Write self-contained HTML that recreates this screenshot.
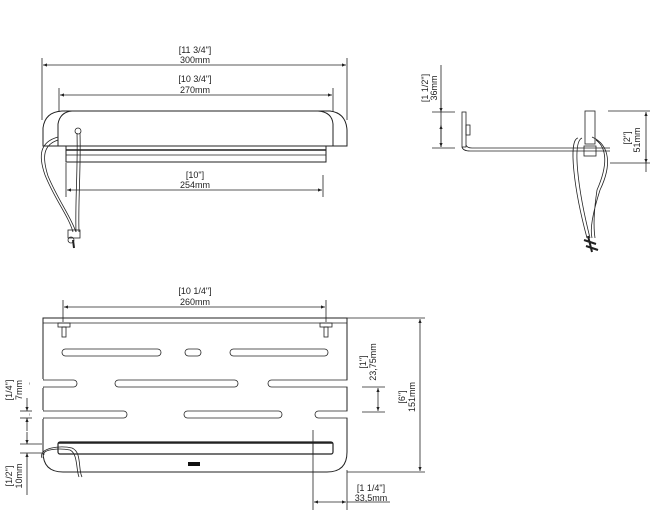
<!DOCTYPE html>
<html><head><style>
html,body{margin:0;padding:0;background:#fff;}
svg{display:block;font-family:"Liberation Sans",sans-serif;}
text{font-size:9px;fill:#222;}
</style></head><body>
<svg width="655" height="528" viewBox="0 0 655 528" xmlns="http://www.w3.org/2000/svg">
<defs>
<marker id="a" viewBox="0 0 10 10" refX="10" refY="5" markerWidth="7" markerHeight="5" orient="auto-start-reverse"><path d="M0,1 L10,5 L0,9 z" fill="#222"/></marker>
</defs>
<g stroke="#222" fill="none" stroke-width="0.8">
<!-- TOP VIEW dims -->
<line x1="42" y1="58" x2="42" y2="120"/><line x1="347" y1="58" x2="347" y2="120"/>
<line x1="43" y1="65" x2="346" y2="65" marker-start="url(#a)" marker-end="url(#a)"/>
<line x1="59" y1="88" x2="59" y2="112"/><line x1="333" y1="88" x2="333" y2="112"/>
<line x1="60" y1="95" x2="332" y2="95" marker-start="url(#a)" marker-end="url(#a)"/>
<line x1="66" y1="163" x2="66" y2="197"/><line x1="323" y1="175" x2="323" y2="197"/>
<line x1="67" y1="190" x2="322" y2="190" marker-start="url(#a)" marker-end="url(#a)"/>
<!-- top body -->
<path d="M43,146 L43,128 Q45,112 62,111 L330,111 Q346,113 347,130 L347,146 Z" stroke-width="1"/>
<path d="M58,146 L58,124 Q60,112 72,111 L318,111 Q332,112 333,124 L333,146" stroke-width="1"/>
<line x1="43" y1="146" x2="347" y2="146"/>
<rect x="66" y="146" width="260" height="16" stroke-width="1"/>
<line x1="66" y1="150" x2="326" y2="150" stroke-width="1.5"/>
<line x1="66" y1="155" x2="326" y2="155"/>
<!-- cord top -->
<circle cx="78" cy="131" r="3"/>
<path d="M77,133 C78,170 75,200 76,232"/><path d="M80,133 C81,170 78,200 79,232"/>
<path d="M58,137 C40,142 38,155 45,175 C55,200 68,215 73,232"/>
<path d="M58,140 C43,145 42,157 48,176 C58,200 70,215 76,232"/>
<rect x="68" y="230" width="12" height="8"/><circle cx="71" cy="240" r="3"/><line x1="73" y1="240" x2="74" y2="248" stroke-width="2"/>
<!-- SIDE VIEW -->
<rect x="462" y="112" width="4" height="35"/>
<rect x="466" y="125" width="4" height="10"/>
<path d="M466,145 Q467,148 472,148 L610,148 M462,147 Q463,151 470,151 L610,151"/>
<rect x="585" y="111" width="10" height="33"/>
<rect x="584" y="146" width="12" height="10"/>
<path d="M578,138 C568,140 574,190 587,238 M582,138 C572,142 578,190 590,238"/>
<path d="M592,137 C610,145 612,165 600,190 C592,215 590,230 592,238 M596,140 C607,148 608,165 597,190 C594,210 593,225 595,238"/>
<path d="M584,240 L596,244 M586,246 L598,250 M588,236 L592,252" stroke-width="2"/>
<line x1="441" y1="65" x2="441" y2="147" /><line x1="441" y1="100" x2="441" y2="112" marker-end="url(#a)"/>
<line x1="441" y1="125" x2="441" y2="147" marker-start="url(#a)" marker-end="url(#a)"/>
<line x1="432" y1="112" x2="455" y2="112"/><line x1="432" y1="148" x2="455" y2="148"/>
<line x1="608" y1="111" x2="650" y2="111"/><line x1="610" y1="163" x2="650" y2="163"/>
<line x1="646" y1="112" x2="646" y2="172" marker-start="url(#a)"/>
<line x1="646" y1="150" x2="646" y2="163" marker-end="url(#a)"/>
<!-- BOTTOM VIEW -->
<path d="M43,318 L347,318 L347,452 Q347,472 327,472 L63,472 Q43,472 43,452 Z" stroke-width="1"/>
<line x1="43" y1="323" x2="347" y2="323"/>
<rect x="58" y="323" width="12" height="4"/><rect x="320" y="323" width="12" height="4"/>
<rect x="62" y="327" width="4" height="10"/><rect x="324" y="327" width="4" height="10"/>
<rect x="62" y="349" width="99" height="7" rx="3.5"/>
<rect x="185" y="349" width="16" height="7" rx="3.5"/>
<rect x="230" y="349" width="98" height="7" rx="3.5"/>
<rect x="115" y="380" width="123" height="7" rx="3.5"/>
<rect x="184" y="411" width="98" height="7" rx="3.5"/>
</g>
<!-- notches -->
<g fill="#fff" stroke="#222" stroke-width="0.8">
<rect x="30" y="380" width="47" height="7" rx="3.5"/>
<rect x="268" y="380" width="90" height="7" rx="3.5"/>
<rect x="30" y="411" width="97" height="7" rx="3.5"/>
<rect x="315" y="411" width="45" height="7" rx="3.5"/>
<rect x="30" y="379" width="13" height="9" stroke="none"/>
<rect x="347.5" y="379" width="12" height="9" stroke="none"/>
<rect x="30" y="410" width="13" height="9" stroke="none"/>
<rect x="347.5" y="410" width="14" height="9" stroke="none"/>
</g>
<g stroke="#222" fill="none" stroke-width="0.8">
<rect x="58" y="442" width="275" height="12" rx="2" stroke-width="1.2"/>
<line x1="58" y1="443" x2="333" y2="443" stroke-width="1.5"/>
<line x1="313" y1="442" x2="313" y2="454"/>
<path d="M42,458 C38,448 60,445 72,448 C82,452 78,470 82,477 M44,455 C42,449 60,448 70,450 C78,454 76,470 79,477"/>
<!-- bottom dims -->
<line x1="63" y1="300" x2="63" y2="322"/><line x1="326" y1="300" x2="326" y2="322"/>
<line x1="64" y1="307" x2="325" y2="307" marker-start="url(#a)" marker-end="url(#a)"/>
<line x1="347" y1="318" x2="425" y2="318"/><line x1="347" y1="472" x2="425" y2="472"/>
<line x1="420" y1="319" x2="420" y2="471" marker-start="url(#a)" marker-end="url(#a)"/>
<line x1="362" y1="387" x2="385" y2="387"/><line x1="362" y1="412" x2="385" y2="412"/>
<line x1="378" y1="388" x2="378" y2="411" marker-start="url(#a)" marker-end="url(#a)"/>
<line x1="20" y1="411" x2="32" y2="411"/><line x1="20" y1="418" x2="32" y2="418"/>
<line x1="27" y1="398" x2="27" y2="411" marker-end="url(#a)"/><line x1="27" y1="431" x2="27" y2="418" marker-end="url(#a)"/>
<line x1="20" y1="444" x2="42" y2="444"/><line x1="20" y1="453" x2="42" y2="453"/>
<line x1="27" y1="432" x2="27" y2="444" marker-end="url(#a)"/><line x1="27" y1="495" x2="27" y2="453" marker-end="url(#a)"/>
<line x1="313" y1="430" x2="313" y2="510"/><line x1="347" y1="470" x2="347" y2="510"/>
<line x1="314" y1="502" x2="346" y2="502" marker-start="url(#a)" marker-end="url(#a)"/>
<line x1="347" y1="502" x2="390" y2="502"/>
</g>
<rect x="188" y="462" width="12" height="4" fill="#111"/>
<!-- labels -->
<g text-anchor="middle">
<text x="195" y="53">[11 3/4"]</text><text x="195" y="63">300mm</text>
<text x="195" y="82">[10 3/4"]</text><text x="195" y="93">270mm</text>
<text x="195" y="178">[10"]</text><text x="195" y="188">254mm</text>
<text x="195" y="294">[10 1/4"]</text><text x="195" y="305">260mm</text>
<text x="371" y="491">[1 1/4"]</text><text x="371" y="501">33,5mm</text>
<text transform="translate(428,88) rotate(-90)">[1 1/2"]</text><text transform="translate(437,88) rotate(-90)">36mm</text>
<text transform="translate(630,138) rotate(-90)">[2"]</text><text transform="translate(640,140) rotate(-90)">51mm</text>
<text transform="translate(366,362) rotate(-90)">[1"]</text><text transform="translate(376,362) rotate(-90)">23,75mm</text>
<text transform="translate(405,397) rotate(-90)">[6"]</text><text transform="translate(415,397) rotate(-90)">151mm</text>
<text transform="translate(12,390) rotate(-90)">[1/4"]</text><text transform="translate(22,390) rotate(-90)">7mm</text>
<text transform="translate(12,476) rotate(-90)">[1/2"]</text><text transform="translate(22,476) rotate(-90)">10mm</text>
</g>
</svg>
</body></html>
